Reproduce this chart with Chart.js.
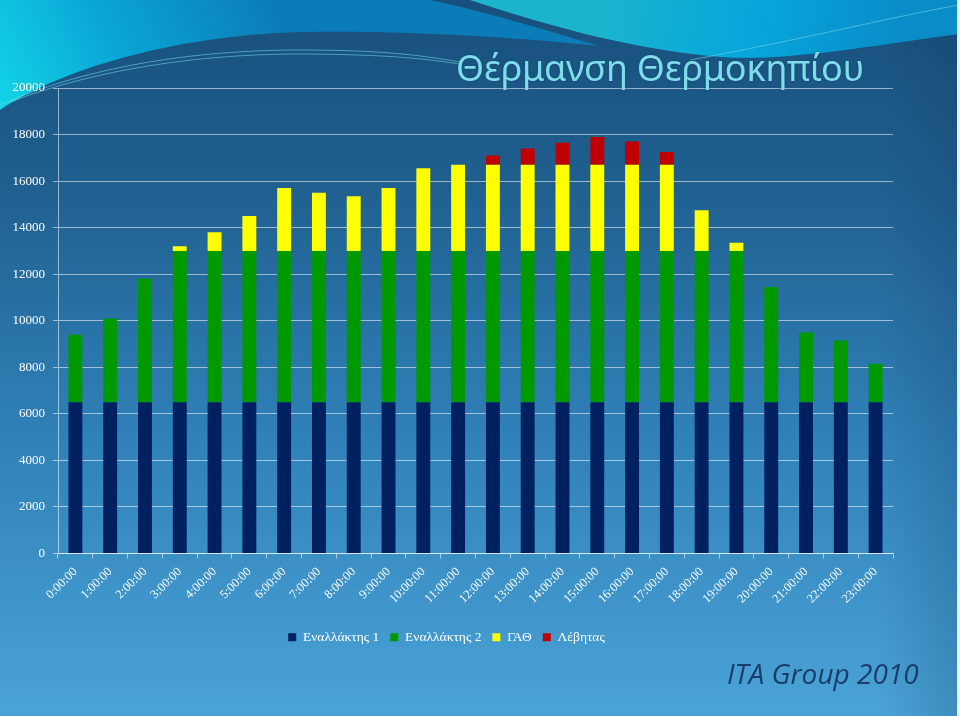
<!DOCTYPE html>
<html>
<head>
<meta charset="utf-8">
<script src="https://cdn.jsdelivr.net/npm/chart.js@4"></script>
<style>
    html, body { margin: 0; padding: 0; background: #fff; }
    #wrap { position: relative; width: 960px; height: 716px; overflow: hidden; }
    #chart { position: absolute; left: 0; top: 0; }
    .title {
        position: absolute; left: 456px; top: 50px;
        font-family: "Noto Sans", sans-serif; font-size: 36px; line-height: 1;
        color: #80dceb; letter-spacing: -0.2px; white-space: nowrap;
        text-shadow: 0 0 2px rgba(0, 70, 100, 0.7);
    }
    .credit {
        position: absolute; left: 727px; top: 659px;
        font-family: "Open Sans", sans-serif; font-style: italic; font-size: 28px; line-height: 1;
        color: #1b3d6c; white-space: nowrap;
    }
</style>
</head>
<body>
<div id="wrap">
    <canvas id="chart" width="960" height="716"></canvas>
    <div class="title">Θέρμανση Θερμοκηπίου</div>
    <div class="credit">ITA Group 2010</div>
</div>
<script>
// hours on the x axis
const hours = ['0:00:00', '1:00:00', '2:00:00', '3:00:00', '4:00:00', '5:00:00',
    '6:00:00', '7:00:00', '8:00:00', '9:00:00', '10:00:00', '11:00:00',
    '12:00:00', '13:00:00', '14:00:00', '15:00:00', '16:00:00', '17:00:00',
    '18:00:00', '19:00:00', '20:00:00', '21:00:00', '22:00:00', '23:00:00'];

// stacked series (kW)
const enallaktis1 = [6500, 6500, 6500, 6500, 6500, 6500, 6500, 6500, 6500, 6500, 6500, 6500,
    6500, 6500, 6500, 6500, 6500, 6500, 6500, 6500, 6500, 6500, 6500, 6500];
const enallaktis2 = [2900, 3600, 5300, 6500, 6500, 6500, 6500, 6500, 6500, 6500, 6500, 6500,
    6500, 6500, 6500, 6500, 6500, 6500, 6500, 6500, 4950, 3000, 2650, 1650];
const gath = [0, 0, 0, 200, 800, 1500, 2700, 2500, 2350, 2700, 3550, 3700,
    3700, 3700, 3700, 3700, 3700, 3700, 1750, 350, 0, 0, 0, 0];
const levitas = [0, 0, 0, 0, 0, 0, 0, 0, 0, 0, 0, 0,
    400, 700, 950, 1200, 1000, 550, 0, 0, 0, 0, 0, 0];

const seriesNames = ['Εναλλάκτης 1', 'Εναλλάκτης 2', 'ΓΑΘ', 'Λέβητας'];
const seriesColors = ['#002060', '#009900', '#ffff00', '#c00000'];

const Y_MIN = 0;
const Y_MAX = 20000;
const Y_STEP = 2000;

// slide background, painted before the chart
const slideBackground = {
    id: 'slideBackground',
    beforeDraw(chart) {
        const ctx = chart.ctx;
        const w = chart.width, h = chart.height;
        ctx.save();

        const base = ctx.createLinearGradient(0, 0, 0, h);
        base.addColorStop(0, '#184f7c');
        base.addColorStop(0.25, '#1f5f8e');
        base.addColorStop(0.6, '#2f80b7');
        base.addColorStop(1, '#4aa3d7');
        ctx.fillStyle = base;
        ctx.fillRect(0, 0, w, h);

        // darker right edge
        const edge = ctx.createLinearGradient(880, 0, w, 0);
        edge.addColorStop(0, 'rgba(16, 50, 90, 0)');
        edge.addColorStop(1, 'rgba(16, 50, 90, 0.2)');
        ctx.fillStyle = edge;
        ctx.fillRect(880, 0, w - 880, h);

        // top-left band above the hump
        ctx.beginPath();
        ctx.moveTo(0, 0);
        ctx.lineTo(430, 0);
        ctx.bezierCurveTo(500, 15, 560, 35, 600, 46);
        ctx.bezierCurveTo(520, 38, 420, 30, 300, 32);
        ctx.bezierCurveTo(170, 36, 60, 70, 0, 110);
        ctx.closePath();
        const band = ctx.createLinearGradient(0, 110, 260, -20);
        band.addColorStop(0, '#12d4e8');
        band.addColorStop(0.45, '#0aa6d6');
        band.addColorStop(1, '#0b7cb8');
        ctx.fillStyle = band;
        ctx.fill();

        // top-right teal region
        ctx.beginPath();
        ctx.moveTo(470, 0);
        ctx.lineTo(w, 0);
        ctx.lineTo(w, 34);
        ctx.bezierCurveTo(880, 44, 790, 62, 720, 57);
        ctx.bezierCurveTo(640, 50, 560, 30, 470, 0);
        ctx.closePath();
        const teal = ctx.createLinearGradient(600, 0, 900, 60);
        teal.addColorStop(0, '#1cb4cc');
        teal.addColorStop(0.5, '#06a6dc');
        teal.addColorStop(1, '#0a8cc8');
        ctx.fillStyle = teal;
        ctx.fill();

        // thin decorative lines
        ctx.lineWidth = 1;
        ctx.strokeStyle = 'rgba(120, 220, 235, 0.55)';
        ctx.beginPath();
        ctx.moveTo(0, 105);
        ctx.bezierCurveTo(90, 65, 200, 50, 300, 50);
        ctx.bezierCurveTo(380, 50, 420, 55, 460, 62);
        ctx.stroke();
        ctx.beginPath();
        ctx.moveTo(10, 102);
        ctx.bezierCurveTo(100, 68, 200, 55, 290, 54);
        ctx.bezierCurveTo(380, 54, 420, 58, 460, 64);
        ctx.stroke();
        ctx.beginPath();
        ctx.moveTo(690, 60);
        ctx.bezierCurveTo(800, 40, 900, 15, w, 5);
        ctx.stroke();

        // light border on the right
        ctx.fillStyle = '#e8f2f8';
        ctx.fillRect(w - 3, 0, 3, h);

        ctx.restore();
    }
};

const makeDataset = (i, values) => ({
    label: seriesNames[i],
    data: values,
    backgroundColor: seriesColors[i],
    borderWidth: 0,
    barPercentage: 0.4,
    categoryPercentage: 1
});

const serif = '"Liberation Serif", serif';
const gridColor = 'rgba(255, 255, 255, 0.55)';

new Chart(document.getElementById('chart'), {
    type: 'bar',
    data: {
        labels: hours,
        datasets: [
            makeDataset(0, enallaktis1),
            makeDataset(1, enallaktis2),
            makeDataset(2, gath),
            makeDataset(3, levitas)
        ]
    },
    options: {
        responsive: false,
        animation: false,
        layout: {
            padding: { left: 0, right: 67, top: 88, bottom: 62 }
        },
        plugins: {
            title: { display: false },
            tooltip: { enabled: false },
            legend: {
                position: 'bottom',
                labels: {
                    color: '#ffffff',
                    font: { family: serif, size: 13.5 },
                    boxWidth: 8,
                    boxHeight: 8,
                    padding: 11
                }
            }
        },
        scales: {
            x: {
                stacked: true,
                grid: {
                    drawOnChartArea: false,
                    drawTicks: true,
                    tickLength: 5,
                    color: gridColor
                },
                border: { display: true, color: gridColor },
                ticks: {
                    color: '#ffffff',
                    font: { family: serif, size: 12.5 },
                    maxRotation: 45,
                    minRotation: 45,
                    autoSkip: false,
                    padding: 6
                },
                afterFit: (scale) => { scale.height = 66; }
            },
            y: {
                stacked: true,
                min: Y_MIN,
                max: Y_MAX,
                grid: {
                    color: gridColor,
                    tickLength: 5
                },
                border: { display: true, color: gridColor },
                ticks: {
                    stepSize: Y_STEP,
                    color: '#ffffff',
                    font: { family: serif, size: 13 },
                    padding: 8,
                    callback: (value) => String(value)
                },
                afterFit: (scale) => { scale.width = 58; }
            }
        }
    },
    plugins: [slideBackground]
});
</script>
</body>
</html>
